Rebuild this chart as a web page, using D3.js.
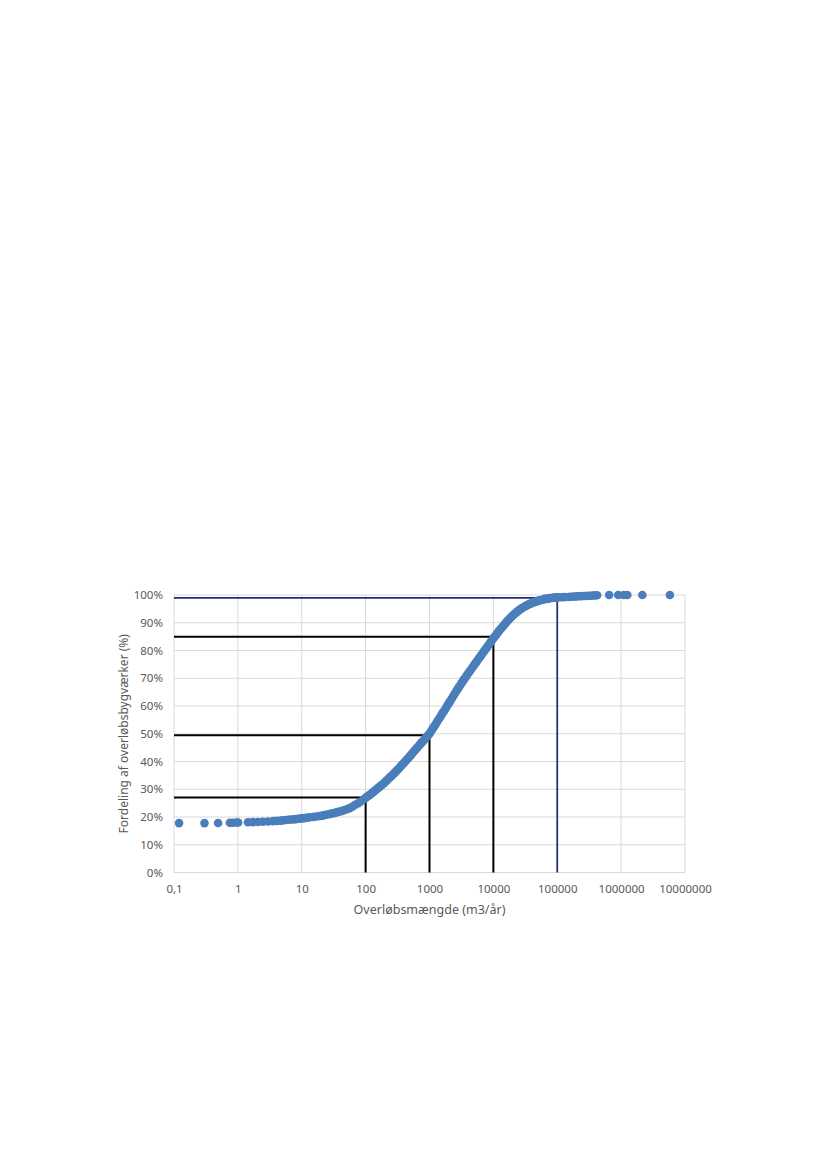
<!DOCTYPE html>
<html>
<head>
<meta charset="utf-8">
<script src="https://cdn.jsdelivr.net/npm/d3@7"></script>
<style>
  body { margin: 0; background: #fff; }
  text { font-family: "Noto Sans", "Open Sans", sans-serif; fill: #595959; }
</style>
</head>
<body>
<div id="chart"></div>
<script>
// overflow volume per structure (m3/year)
const volumes = [
  0.12, 0.30, 0.49, 0.75, 0.84, 0.96, 1.01,
  1.44, 1.72, 2.06, 2.47, 2.96, 3.54, 4.09, 4.72,
  5.1, 5.6, 6.2, 6.8, 7.5, 8.2, 9.1,
  10, 11, 12, 13, 15, 16, 18, 20, 22, 24, 27, 30, 33, 36, 39, 43, 47, 51, 56, 62, 68, 75, 82, 91,
  100, 105, 110, 115, 121, 127, 133, 140, 147, 154, 162, 169, 178, 187, 196, 205, 215, 226, 237, 249,
  261, 274, 287, 301, 316, 332, 348, 365, 383, 402, 422, 442, 464, 487, 511, 536, 562, 590, 619, 649,
  681, 715, 750, 787, 825, 866, 909, 953,
  1000, 1050, 1100, 1150, 1210, 1270, 1330, 1400, 1470, 1540, 1620, 1690, 1780, 1870, 1960, 2050, 2150, 2260, 2370, 2490,
  2610, 2740, 2870, 3010, 3160, 3320, 3480, 3650, 3830, 4020, 4220, 4420, 4640, 4870, 5110, 5360, 5620, 5900, 6190, 6490,
  6810, 7150, 7500, 7870, 8250, 8660, 9090, 9530,
  10000, 10500, 11000, 11500, 12100, 12700, 13300, 14000, 14700, 15400, 16200, 16900, 17800, 18700, 19600, 20500, 21500, 22600, 23700, 24900,
  26100, 27400, 28700, 30100, 31600, 33200, 34800, 36500, 38300, 40200, 42200, 44200, 46400, 48700, 51100, 53600, 56200, 59000, 61900, 64900,
  68100, 71500, 75000, 78700, 82500, 86600, 90900, 95300,
  100000, 110000, 120000, 130000, 150000, 160000, 180000, 200000, 220000, 240000, 270000, 300000, 330000, 360000, 390000, 420000,
  650000, 900000, 1100000, 1250000, 2150000, 5800000
];

// cumulative share of overflow structures (%)
const shares = [
  17.8, 17.8, 17.85, 17.9, 17.95, 18.0, 18.0,
  18.1, 18.15, 18.2, 18.3, 18.4, 18.5, 18.6, 18.7,
  18.8, 18.9, 19.0, 19.1, 19.15, 19.25, 19.4,
  19.5, 19.6, 19.7, 19.85, 20.0, 20.1, 20.25, 20.4, 20.6, 20.8, 21.05, 21.3, 21.5, 21.75, 21.95, 22.2, 22.5, 22.8, 23.2, 23.7, 24.3, 24.85, 25.4, 26.2,
  26.9, 27.3, 27.6, 27.9, 28.3, 28.7, 29.1, 29.5, 29.9, 30.3, 30.7, 31.1, 31.5, 31.9, 32.3, 32.8, 33.2, 33.7, 34.2, 34.6,
  35.1, 35.6, 36.0, 36.5, 37.0, 37.5, 38.1, 38.6, 39.1, 39.6, 40.2, 40.7, 41.2, 41.8, 42.3, 42.9, 43.5, 44.0, 44.6, 45.1,
  45.7, 46.2, 46.8, 47.3, 47.8, 48.4, 48.9, 49.5,
  50.0, 50.8, 51.5, 52.2, 53.0, 53.7, 54.5, 55.3, 56.0, 56.8, 57.6, 58.2, 59.0, 59.9, 60.6, 61.3, 62.1, 62.9, 63.7, 64.5,
  65.2, 66.0, 66.7, 67.4, 68.2, 68.9, 69.6, 70.3, 71.0, 71.7, 72.4, 73.0, 73.7, 74.4, 75.1, 75.7, 76.4, 77.1, 77.7, 78.4,
  79.1, 79.7, 80.4, 81.1, 81.7, 82.4, 83.1, 83.7,
  84.4, 85.0, 85.6, 86.2, 86.9, 87.5, 88.0, 88.6, 89.2, 89.7, 90.4, 90.8, 91.4, 91.9, 92.4, 92.8, 93.2, 93.6, 94.0, 94.4,
  94.8, 95.1, 95.4, 95.7, 96.0, 96.2, 96.5, 96.7, 96.9, 97.1, 97.3, 97.5, 97.6, 97.8, 98.0, 98.1, 98.2, 98.3, 98.5, 98.6,
  98.6, 98.7, 98.8, 98.9, 98.9, 99.0, 99.1, 99.1,
  99.15, 99.2, 99.2, 99.25, 99.3, 99.35, 99.4, 99.5, 99.55, 99.6, 99.65, 99.7, 99.75, 99.8, 99.85, 99.9,
  100, 100, 100, 100, 100, 100
];

// marker lines: volume limit and share below it
const refVolumes = [100, 1000, 10000, 100000];
const refShares = [27, 49.5, 85, 99];
const refColors = ["#000", "#000", "#000", "#1f3268"];

const xTickValues = [0.1, 1, 10, 100, 1000, 10000, 100000, 1000000, 10000000];
const xTickLabels = ["0,1", "1", "10", "100", "1000", "10000", "100000", "1000000", "10000000"];
const yTickValues = [0, 10, 20, 30, 40, 50, 60, 70, 80, 90, 100];

const xTitle = "Overløbsmængde (m3/år)";
const yTitle = "Fordeling af overløbsbygværker (%)";

let marginLeft = 174, marginTop = 595;
let width = 511, height = 277.5;

let svg = d3.select("#chart").append("svg")
    .attr("width", 827)
    .attr("height", 1169);

let g = svg.append("g").attr("transform", `translate(${marginLeft}, ${marginTop})`);

let x = d3.scaleLog().domain([0.1, 10000000]).range([0, width]);
let y = d3.scaleLinear().domain([0, 100]).range([height, 0]);

// grid
g.selectAll(".vgrid")
    .data(xTickValues)
    .enter()
    .append("line")
    .attr("x1", d => x(d)).attr("x2", d => x(d))
    .attr("y1", 0).attr("y2", height)
    .attr("stroke", "#d9d9d9")
    .attr("stroke-width", 1);
g.selectAll(".hgrid")
    .data(yTickValues)
    .enter()
    .append("line")
    .attr("x1", 0).attr("x2", width)
    .attr("y1", d => y(d)).attr("y2", d => y(d))
    .attr("stroke", "#d9d9d9")
    .attr("stroke-width", 1);

// axes (labels only, grid does the lines)
let xAxis = g.append("g")
    .attr("transform", `translate(0, ${height})`)
    .call(d3.axisBottom(x).tickValues(xTickValues).tickSize(0).tickPadding(12)
        .tickFormat((d, i) => xTickLabels[i]));
let yAxis = g.append("g")
    .call(d3.axisLeft(y).tickValues(yTickValues).tickSize(0).tickPadding(11)
        .tickFormat(d => d + "%"));
[xAxis, yAxis].forEach(a => {
    a.select(".domain").remove();
    a.selectAll("text")
        .attr("font-family", "'Noto Sans', sans-serif")
        .attr("font-size", 11.5)
        .attr("fill", "#595959");
});

// reference lines
let refs = refVolumes.map((v, i) => ({ v: v, s: refShares[i], c: refColors[i] }));
let line = d3.line().x(d => x(d[0])).y(d => y(d[1]));
g.selectAll(".ref")
    .data(refs)
    .enter()
    .append("path")
    .attr("d", d => line([[0.1, d.s], [d.v, d.s], [d.v, 0]]))
    .attr("fill", "none")
    .attr("stroke", d => d.c)
    .attr("stroke-width", d => d.c === "#000" ? 2 : 1.75);

// scatter points
g.selectAll(".pt")
    .data(volumes.map((v, i) => [v, shares[i]]))
    .enter()
    .append("circle")
    .attr("cx", d => x(d[0]))
    .attr("cy", d => y(d[1]))
    .attr("r", 4.3)
    .attr("fill", "#4a7ebb");

// titles
svg.append("text")
    .attr("x", marginLeft + width / 2)
    .attr("y", 914)
    .attr("text-anchor", "middle")
    .attr("font-size", 12.5)
    .text(xTitle);
svg.append("text")
    .attr("transform", `translate(128, ${marginTop + height / 2}) rotate(-90)`)
    .attr("text-anchor", "middle")
    .attr("font-size", 12)
    .text(yTitle);
</script>
</body>
</html>
